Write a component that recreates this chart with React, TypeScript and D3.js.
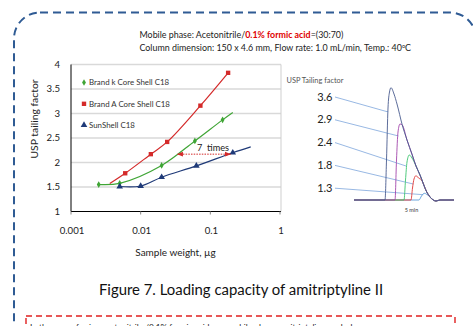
import React from "react";
import * as d3 from "d3";

// main chart series (sample weight in µg, USP tailing factor)
const brandKX = [0.0025, 0.005, 0.02, 0.06, 0.15, 0.21];
const brandKY = [1.55, 1.575, 1.94, 2.44, 2.87, 3.02];
const brandKMarked = [true, true, true, true, true, false];

const brandAX = [0.0036, 0.006, 0.014, 0.024, 0.072, 0.18];
const brandAY = [1.57, 1.78, 2.17, 2.42, 3.16, 3.83];
const brandAMarked = [false, true, true, true, true, true];

const sunShellX = [0.005, 0.01, 0.02, 0.063, 0.21, 0.38];
const sunShellY = [1.51, 1.52, 1.7, 1.93, 2.2, 2.32];
const sunShellMarked = [true, true, true, true, true, false];

const yTicks = [1, 1.5, 2, 2.5, 3, 3.5, 4];
const xTicks = [0.001, 0.01, 0.1, 1];
const xTickLabels = ["0.001", "0.01", "0.1", "1"];

// "7 times" arrow
const arrowFrom = 0.0338;
const arrowTo = 0.194;
const arrowY = 2.17;

// inset chromatogram (time in min, signal in arbitrary units)
const tailT = [4.3, 4.42, 4.63, 4.82, 5.03, 5.18, 5.34, 5.61, 5.74, 5.87, 5.98, 6.14];
const tailH = [106, 96, 75, 60, 45, 34, 25, 8, 3, 0, -1, 0];

const peakLabels = ["3.6", "2.9", "2.4", "1.8", "1.3"];
const peakColors = ["#4a5b8e", "#a346ab", "#3cc46e", "#e03434", "#5b9bd8"];
const peakStart = [3.94, 4.34, 4.7, 4.98, 5.3];
const peakFrontT = [
  [4.0, 4.06, 4.12, 4.18],
  [4.4, 4.46, 4.54],
  [4.76, 4.82, 4.91, 5.02],
  [5.04, 5.1, 5.18, 5.28, 5.4],
  [5.4, 5.51, 5.62],
];
const peakFrontH = [
  [40, 92, 108, 112.3],
  [40, 68, 76],
  [20, 38, 45, 42],
  [12, 21, 24.3, 22, 20],
  [4, 6.7, 5.5],
];
const peakJoin = [4.3, 4.6, 5.1, 5.5, 5.7];
const leaderT = [4.07, 4.48, 4.78, 5.07, 5.47];
const leaderH = [88, 64, 34, 16, 5.3];

const GREEN = "#3fa535";
const RED = "#d42a2a";
const BLUE = "#1f3a78";
const FONT = "Lato, 'DejaVu Sans', sans-serif";

const x = d3.scaleLog().domain([0.001, 1]).range([71, 280]);
const y = d3.scaleLinear().domain([1, 4]).range([211.5, 64.5]);

const tx = d3.scaleLinear().domain([2.7, 6.7]).range([354, 454]);
const ty = d3.scaleLinear().domain([0, 120]).range([200, 80]);

type Pt = [number, number];

const zip = (xs: number[], ys: number[]): Pt[] => xs.map((v, i) => [v, ys[i]]);

const line = d3
  .line<Pt>()
  .x((d) => x(d[0]))
  .y((d) => y(d[1]))
  .curve(d3.curveCatmullRom.alpha(0.5));

const peakLine = d3
  .line<Pt>()
  .x((d) => tx(d[0]))
  .y((d) => ty(d[1]))
  .curve(d3.curveMonotoneX);

const series = [
  { name: "Brand k Core Shell C18", xs: brandKX, ys: brandKY, marked: brandKMarked, color: GREEN, symbol: d3.symbolDiamond, size: 13 },
  { name: "Brand A Core Shell C18", xs: brandAX, ys: brandAY, marked: brandAMarked, color: RED, symbol: d3.symbolSquare, size: 19 },
  { name: "SunShell C18", xs: sunShellX, ys: sunShellY, marked: sunShellMarked, color: BLUE, symbol: d3.symbolTriangle, size: 19 },
];

function peakPath(i: number) {
  const pts: Pt[] = [[2.7, 0], [peakStart[i], 0]];
  peakFrontT[i].forEach((t, j) => pts.push([t, peakFrontH[i][j]]));
  tailT.forEach((t, j) => {
    if (t >= peakJoin[i]) pts.push([t, tailH[j]]);
  });
  pts.push([6.7, 0]);
  return peakLine(pts) ?? "";
}

export default function App() {
  return (
    <svg
      width={473}
      height={326}
      style={{ position: "absolute", left: 0, top: 0, background: "#fff" }}
      fontFamily={FONT}
    >
      <defs>
        <marker id="arr" viewBox="0 0 10 10" refX="9" refY="5" markerWidth="6" markerHeight="6" orient="auto-start-reverse">
          <path d="M0,1 L10,5 L0,9 z" fill={RED} />
        </marker>
      </defs>

      {/* outer dashed frame */}
      <rect x={14} y={12.5} width={462} height={340} rx={26} fill="none" stroke="#2f5b94" strokeWidth={2} strokeDasharray="8 5" />

      {/* header */}
      <text x={139.5} y={37.5} fontSize={8.9} fill="#222">
        Mobile phase: Acetonitrile/
        <tspan fill="#e00000" fontWeight="bold">0.1% formic acid</tspan>
        =(30:70)
      </text>
      <text x={139.5} y={51.3} fontSize={8.9} fill="#222">
        Column dimension: 150 x 4.6 mm, Flow rate: 1.0 mL/min, Temp.: 40
        <tspan fontSize={5.5} dy={-3}>o</tspan>
        <tspan dy={3}>C</tspan>
      </text>

      {/* gridlines */}
      {yTicks.slice(1).map((t) => (
        <line key={t} x1={71} x2={281} y1={y(t)} y2={y(t)} stroke="#d9d9d9" strokeWidth={1.3} />
      ))}
      <line x1={281} x2={281} y1={y(4)} y2={y(1)} stroke="#cfcfcf" strokeWidth={1} />

      {/* axes */}
      <line x1={71} x2={71} y1={y(4)} y2={y(1)} stroke="#000" strokeWidth={1} />
      <line x1={71} x2={281} y1={y(1)} y2={y(1)} stroke="#000" strokeWidth={1} />
      {xTicks.map((t) => (
        <line key={t} x1={x(t)} x2={x(t)} y1={y(1)} y2={y(1) + 3} stroke="#888" />
      ))}
      {yTicks.map((t) => (
        <text key={t} x={60} y={y(t) + 3.4} fontSize={9.6} textAnchor="end" fill="#222">
          {t}
        </text>
      ))}
      {xTicks.map((t, i) => (
        <text key={t} x={x(t) + 1} y={234} fontSize={9.6} textAnchor="middle" fill="#222">
          {xTickLabels[i]}
        </text>
      ))}
      <text x={175.5} y={255.8} fontSize={10} textAnchor="middle" fill="#222">
        Sample weight, µg
      </text>
      <text transform="translate(37.5,119) rotate(-90)" fontSize={10.4} textAnchor="middle" fill="#222">
        USP tailing factor
      </text>

      {/* series */}
      {series.map((s) => (
        <g key={s.name}>
          <path d={line(zip(s.xs, s.ys)) ?? ""} fill="none" stroke={s.color} strokeWidth={1.2} />
          {s.xs.map((v, i) =>
            s.marked[i] ? (
              <path
                key={i}
                transform={`translate(${x(v)},${y(s.ys[i])})`}
                d={d3.symbol().type(s.symbol).size(s.size)() ?? ""}
                fill={s.color}
              />
            ) : null
          )}
        </g>
      ))}

      {/* legend */}
      {series.map((s, i) => (
        <g key={s.name} transform={`translate(84,${82.5 + i * 21.3})`}>
          <path d={d3.symbol().type(s.symbol).size(s.size)() ?? ""} fill={s.color} />
          <text x={5} y={2.7} fontSize={7.9} fill="#333">
            {s.name}
          </text>
        </g>
      ))}

      {/* 7 times annotation */}
      <line
        x1={x(arrowFrom)}
        x2={x(arrowTo)}
        y1={y(arrowY)}
        y2={y(arrowY)}
        stroke={RED}
        strokeWidth={1}
        strokeDasharray="1.5 1.2"
        markerStart="url(#arr)"
        markerEnd="url(#arr)"
      />
      <text x={197} y={150.5} fontSize={9.2} fill="#222" style={{ whiteSpace: "pre" }}>
        7  times
      </text>

      {/* inset chromatogram */}
      <text x={286.5} y={82.5} fontSize={7.4} fill="#555">
        USP Tailing factor
      </text>
      {peakLabels.map((l, i) => (
        <g key={l}>
          <line x1={335} y1={97 + i * 22.8} x2={tx(leaderT[i])} y2={ty(leaderH[i])} stroke="#7ea6dc" strokeWidth={0.8} />
          <text x={332.5} y={100.5 + i * 22.8} fontSize={11} textAnchor="end" fill="#222">
            {l}
          </text>
        </g>
      ))}
      {peakLabels
        .map((l, i) => (
          <path key={l} d={peakPath(i)} fill="none" stroke={peakColors[i]} strokeWidth={0.9} />
        ))
        .reverse()}
      <text x={tx(5)} y={211.5} fontSize={5.5} textAnchor="middle" fill="#333">
        5 min
      </text>

      {/* caption */}
      <text x={241} y={294.5} fontSize={14.9} textAnchor="middle" fill="#111">
        Figure 7. Loading capacity of amitriptyline II
      </text>

      {/* red dashed note box */}
      <rect x={26} y={316} width={429} height={40} fill="none" stroke="#e02020" strokeWidth={1.4} strokeDasharray="6 4" />
      <text x={30} y={330} fontSize={8.3} fill="#222">
        In the case of using acetonitrile /0.1% formic acid as a mobile phase, amitriptyline peak shows
      </text>
    </svg>
  );
}
